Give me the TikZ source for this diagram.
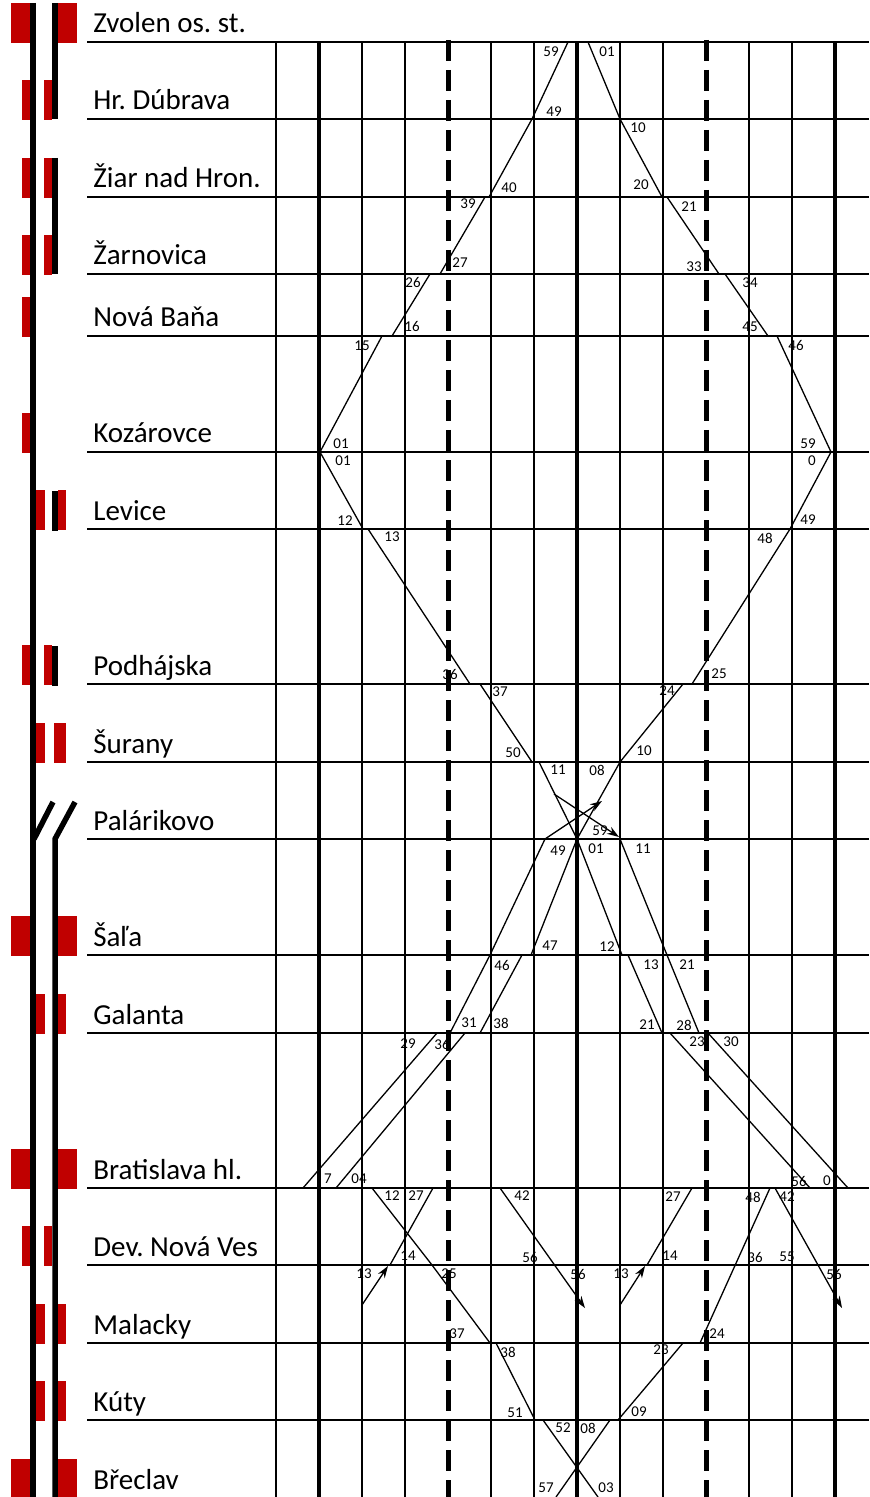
\documentclass[tikz,border=0pt]{standalone}
\usepackage{fontspec}
\setmainfont{Carlito}
\usetikzlibrary{arrows.meta}
\definecolor{signalred}{RGB}{192,0,0}
\frenchspacing

\begin{document}
\begin{tikzpicture}[
  x=0.5pt,y=-0.5pt,
  >={Stealth[length=6pt,width=4pt]},
  station/.style={anchor=base west,inner sep=0pt,font=\fontsize{14.5}{17}\selectfont},
  time/.style={inner sep=0pt,font=\fontsize{7.5}{9}\selectfont},
  stationline/.style={line width=1.15pt},
  gridline/.style={line width=1.15pt},
  hourline/.style={line width=2pt},
  quarterline/.style={line width=2.5pt,dash pattern=on 10.5pt off 4.5pt},
  track/.style={line width=2.75pt},
  signal/.style={fill=signalred},
  train/.style={line width=0.65pt,line join=round}
]
  \useasboundingbox (0,0) rectangle (869,1497);

  \foreach \y/\name/\id in {42/Zvolen os. st./zv,119/Hr. Dúbrava/hd,197/Žiar nad Hron./zh,
      274/Žarnovica/zr,336/Nová Baňa/nb,452/Kozárovce/ko,529/Levice/le,684/Podhájska/po,
      762/Šurany/su,839/Palárikovo/pa,955/Šaľa/sa,1033/Galanta/ga,1188/Bratislava hl./ba,
      1265/Dev. Nová Ves/dnv,1343/Malacky/ma,1420/Kúty/ku,1498/Břeclav/br}
    \node[station] (st-\id) at (93,\y-9) {\name};

  \foreach \y in {42,955,1188,1498} {
    \fill[signal] (11,\y-39) rectangle (30,\y+1);
    \fill[signal] (58,\y-39) rectangle (77,\y+1);
  }
  \foreach \y in {119,197,274,684,1265} {
    \fill[signal] (22,\y-39) rectangle (30,\y+1);
    \fill[signal] (44,\y-39) rectangle (52,\y+1);
  }
  \foreach \y in {529,1033,1343,1420} {
    \fill[signal] (36,\y-39) rectangle (45,\y+1);
    \fill[signal] (58,\y-39) rectangle (66,\y+1);
  }
  \foreach \y in {336,452}
    \fill[signal] (22,\y-39) rectangle (30,\y+1);
  \fill[signal] (36,723) rectangle (45,763);
  \fill[signal] (54,723) rectangle (66,763);

  \draw[track] (33,3) -- (33,1497);
  \draw[track] (55,3) -- (55,119);
  \draw[track] (55,158) -- (55,274);
  \draw[track] (55,491) -- (55,531);
  \draw[track] (55,646) -- (55,686);
  \draw[track] (53,802) -- (34,839);
  \draw[track] (75,802) -- (55,839) -- (55,1497);

  \foreach \x/\y/\t [count=\k] in {551/52/59,607/52/01,554/112/49,638/128/10,509/188/40,
      641/185/20,468/204/39,689/207/21,460/263/27,694/267/33,413/282/26,750/283/34,
      412/326/16,750/327/45,362/346/15,796/345/46,341/444/01,808/444/59,343/461/01,
      812/461/0,345/521/12,808/520/49,392/537/13,765/538/48,450/674/36,719/674/25,
      500/692/37,667/691/24,513/753/50,644/751/10,558/770/11,597/770/08,600/831/59,
      558/851/49,596/849/01,643/849/11,550/946/47,607/947/12,502/965/46,651/965/13,
      687/965/21,469/1023/31,501/1023/38,647/1025/21,684/1025/28,408/1044/29,
      442/1044/36,697/1042/23,731/1042/30,328/1179/7,359/1179/04,799/1181/56,
      827/1181/0,392/1196/12,416/1196/27,522/1196/42,673/1197/27,753/1197/48,
      787/1197/42,408/1256/14,530/1257/56,670/1256/14,755/1257/36,787/1257/55,
      364/1274/13,449/1274/25,578/1274/56,621/1274/13,834/1274/56,457/1334/37,
      717/1334/24,508/1352/38,661/1350/23,515/1413/51,639/1412/09,563/1428/52,
      588/1428/08,546/1488/57,606/1488/03}
    \node[time] (time\k) at (\x,\y) {\t};

  \foreach \y in {42,119,197,274,336,452,529,684,762,839,955,1033,1188,1265,1343,1420}
    \draw[stationline] (87,\y) -- (869,\y);
  \foreach \x in {276,362,405,491,534,620,663,749,792}
    \draw[gridline] (\x,42) -- (\x,1497);
  \foreach \x in {319,577,835}
    \draw[hourline] (\x,42) -- (\x,1497);
  \foreach \x in {448,706}
    \draw[quarterline] (\x,40) -- (\x,1497);

  \draw[train] (320,452) -- (382,336) -- (392,336) -- (430,274) -- (440,274) -- (485,197)
    -- (489,197) -- (532,119) -- (568,42);
  \draw[train] (588,42) -- (620,119) -- (662,197) -- (667,197) -- (719,274) -- (725,274)
    -- (768,336) -- (777,336) -- (831,452);
  \draw[train] (320,452) -- (363,529) -- (368,529) -- (470,684) -- (480,684) -- (532,762)
    -- (539,762) -- (577,839) -- (622,955) -- (628,955) -- (662,1033) -- (670,1033)
    -- (810,1188);
  \draw[train] (336,1188) -- (465,1033) -- (480,1033) -- (522,955) -- (531,955)
    -- (577,839) -- (620,762) -- (683,684) -- (692,684) -- (790,529) -- (831,452);
  \draw[train] (303,1188) -- (437,1033) -- (450,1033) -- (490,955) -- (545,839);
  \draw[train,->] (545,839) -- (602,801);
  \draw[train,->] (554,794) -- (619,837);
  \draw[train] (620,839) -- (667,955) -- (699,1033) -- (708,1033) -- (848,1188);

  \draw[train] (372,1188) -- (432,1265) -- (490,1343) -- (496,1343) -- (535,1420)
    -- (543,1420) -- (598,1497);
  \draw[train] (556,1497) -- (610,1420) -- (618,1420) -- (683,1343) -- (700,1343)
    -- (770,1188);
  \draw[train,->] (362,1305) -- (388,1266);
  \draw[train] (390,1265) -- (433,1188);
  \draw[train,->] (620,1305) -- (645,1266);
  \draw[train] (647,1265) -- (692,1188);
  \draw[train,->] (500,1188) -- (585,1308);
  \draw[train,->] (775,1188) -- (842,1308);
\end{tikzpicture}
\end{document}
